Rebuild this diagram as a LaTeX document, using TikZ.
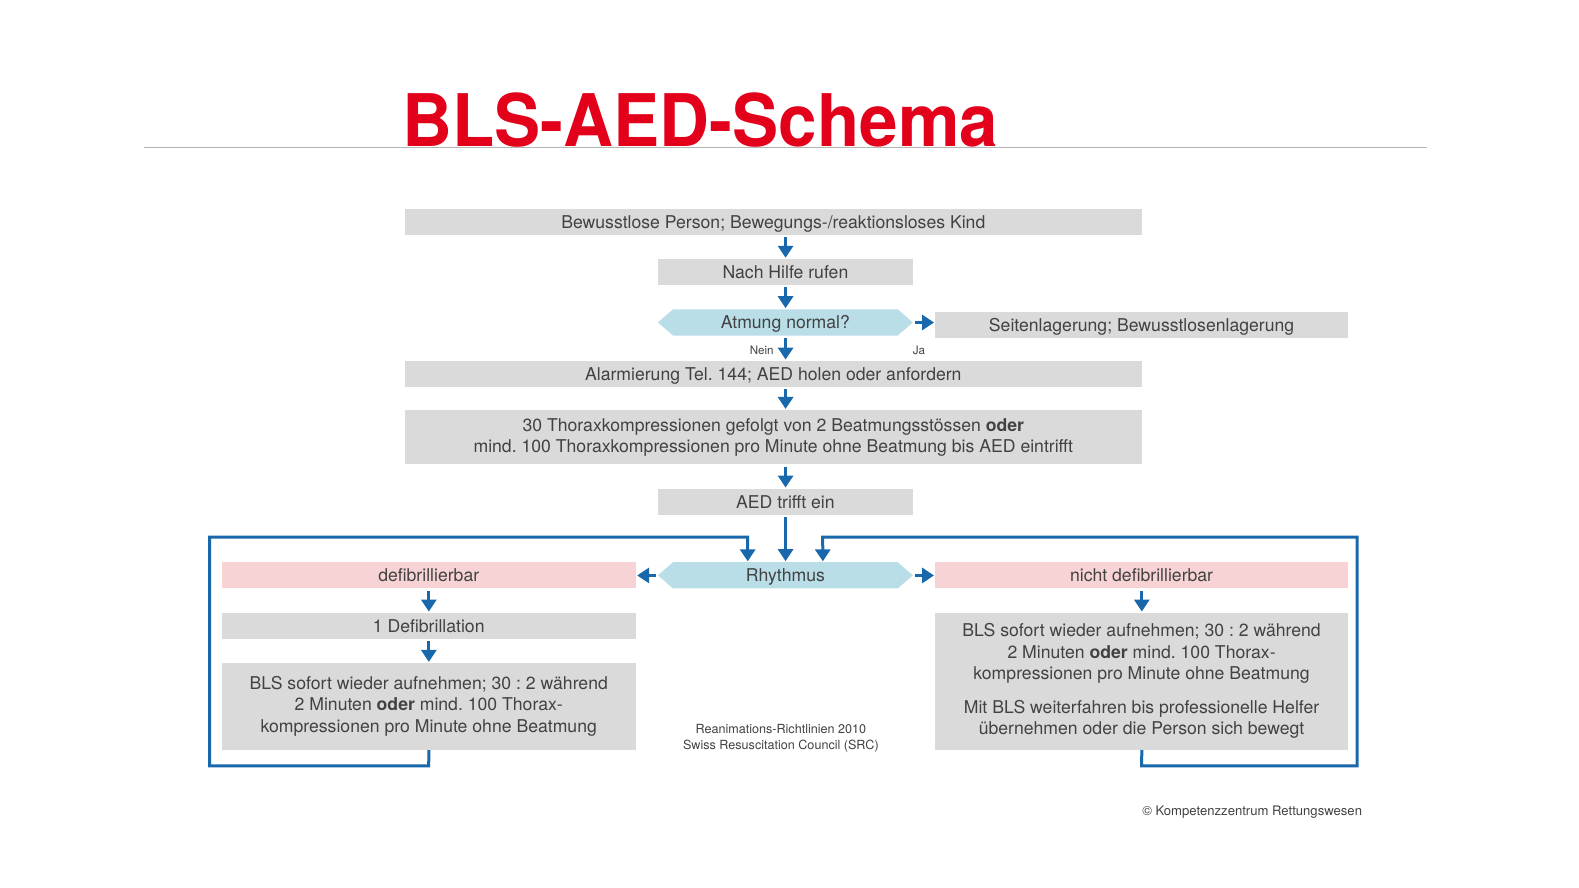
\documentclass[tikz,border=0pt]{standalone}
\usepackage{fontspec}
\setmainfont{TeX Gyre Heros}
\usetikzlibrary{arrows.meta,calc}
\frenchspacing
\definecolor{boxgray}{HTML}{DADADA}
\definecolor{hexblue}{HTML}{B9DEE8}
\definecolor{pinkc}{HTML}{F7D3D5}
\definecolor{arrblue}{HTML}{1A68AC}
\definecolor{txt}{HTML}{424242}
\definecolor{titlered}{HTML}{E2001A}
\definecolor{rulegray}{HTML}{B4B4B4}
\newcommand\fs{\fontsize{17.5bp}{21bp}\selectfont}
\tikzset{
  box/.style={fill=boxgray, minimum height=26bp, inner sep=0, text=txt, font=\fs, align=center},
  one/.style={text height=12.6bp, text depth=0bp},
  pinkbox/.style={box, one, fill=pinkc},
  hexnode/.style={one, minimum width=253bp, minimum height=26bp, inner sep=0, text=txt, font=\fs,
    path picture={\fill[hexblue] (path picture bounding box.west)
      -- ($(path picture bounding box.north west)+(15,0)$)
      -- ($(path picture bounding box.north east)+(-15,0)$)
      -- (path picture bounding box.east)
      -- ($(path picture bounding box.south east)+(-15,0)$)
      -- ($(path picture bounding box.south west)+(15,0)$) -- cycle;}},
  arr/.style={draw=arrblue, line width=3.3bp, -{Triangle[width=15bp,length=12bp]}, shorten <=2bp, shorten >=1bp},
  looparr/.style={draw=arrblue, line width=3bp, -{Triangle[width=15bp,length=12bp]}, shorten >=1bp},
  small/.style={text=txt, font=\fontsize{11.5bp}{13bp}\selectfont, inner sep=0}
}
\begin{document}
\begin{tikzpicture}[x=1bp,y=-1bp,scale=1.00756,transform shape]
\useasboundingbox[fill=white] (0,0) rectangle (1567.15,881.33);
% title
\node[anchor=base west, inner sep=0, text=titlered, font=\fontsize{72bp}{72bp}\selectfont\bfseries, xscale=0.954] (title) at (399,145.5) {BLS-AED-Schema};
\draw[rulegray, line width=1.3bp] (143,146.3) -- (1416,146.3);
% nodes
\node[box, one, minimum width=731bp] (b1) at (767.5,220) {Bewusstlose Person; Bewegungs-/reaktionsloses Kind};
\node[box, one, minimum width=253bp] (b2) at (779.5,270) {Nach Hilfe rufen};
\node[hexnode] (atm) at (779.5,320) {Atmung normal?};
\node[box, one, minimum width=410bp] (seit) at (1133,322.5) {Seitenlagerung; Bewusstlosenlagerung};
\node[box, one, minimum width=731bp] (alarm) at (767.5,371) {Alarmierung Tel. 144; AED holen oder anfordern};
\node[box, minimum width=731bp, minimum height=54bp] (thor) at (767.5,434) {30 Thoraxkompressionen gefolgt von 2 Beatmungsstössen \textbf{oder}\\mind. 100 Thoraxkompressionen pro Minute ohne Beatmung bis AED eintrifft};
\node[box, one, minimum width=253bp] (aed) at (779.5,498) {AED trifft ein};
\node[hexnode] (rhy) at (779.5,571) {Rhythmus};
\node[pinkbox, minimum width=411bp] (def) at (425.5,571) {defibrillierbar};
\node[pinkbox, minimum width=410bp] (ndef) at (1133,571) {nicht defibrillierbar};
\node[box, one, minimum width=411bp] (d1) at (425.5,621) {1 Defibrillation};
\node[box, minimum width=411bp, minimum height=86bp] (blsl) at (425.5,701) {BLS sofort wieder aufnehmen; 30 : 2 während\\2 Minuten \textbf{oder} mind. 100 Thorax-\\kompressionen pro Minute ohne Beatmung};
\node[box, minimum width=410bp, minimum height=136bp] (blsr) at (1133,676) {BLS sofort wieder aufnehmen; 30 : 2 während\\2 Minuten \textbf{oder} mind. 100 Thorax-\\kompressionen pro Minute ohne Beatmung\\[13bp]Mit BLS weiterfahren bis professionelle Helfer\\übernehmen oder die Person sich bewegt};
% labels
\node[small] (nein) at (756,347.5) {Nein};
\node[small] (ja) at (912,347.5) {Ja};
\node[text=txt, font=\fontsize{12.5bp}{16bp}\selectfont, align=center, inner sep=0] (src) at (775,733) {Reanimations-Richtlinien 2010\\Swiss Resuscitation Council (SRC)};
\node[anchor=base east, inner sep=0, text=txt, font=\fontsize{13bp}{15bp}\selectfont] (copy) at (1352,809) {\textcopyright{} Kompetenzzentrum Rettungswesen};
% arrows
\draw[arr] (b2.north |- b1.south) -- (b2.north);
\draw[arr] (b2.south) -- (atm.north);
\draw[arr] (atm.south) -- (alarm.north -| atm.south);
\draw[arr] (atm.east) -- (seit.west |- atm.east);
\draw[arr] (alarm.south -| aed.north) -- (thor.north -| aed.north);
\draw[arr] (thor.south -| aed.north) -- (aed.north);
\draw[arr] (aed.south) -- (rhy.north);
\draw[arr] (rhy.west) -- (def.east);
\draw[arr] (rhy.east) -- (ndef.west);
\draw[arr] (def.south) -- (d1.north);
\draw[arr] (d1.south) -- (blsl.north);
\draw[arr] (ndef.south) -- (blsr.north);
% loops
\coordinate (inl) at (742,558);
\coordinate (inr) at (816.5,558);
\draw[looparr] (blsl.south) -- (425.5,760) -- (208,760) -- (208,533) -- (742,533) -- (inl);
\draw[looparr] (blsr.south) -- (1133,760) -- (1347,760) -- (1347,533) -- (816.5,533) -- (inr);
\end{tikzpicture}
\end{document}
